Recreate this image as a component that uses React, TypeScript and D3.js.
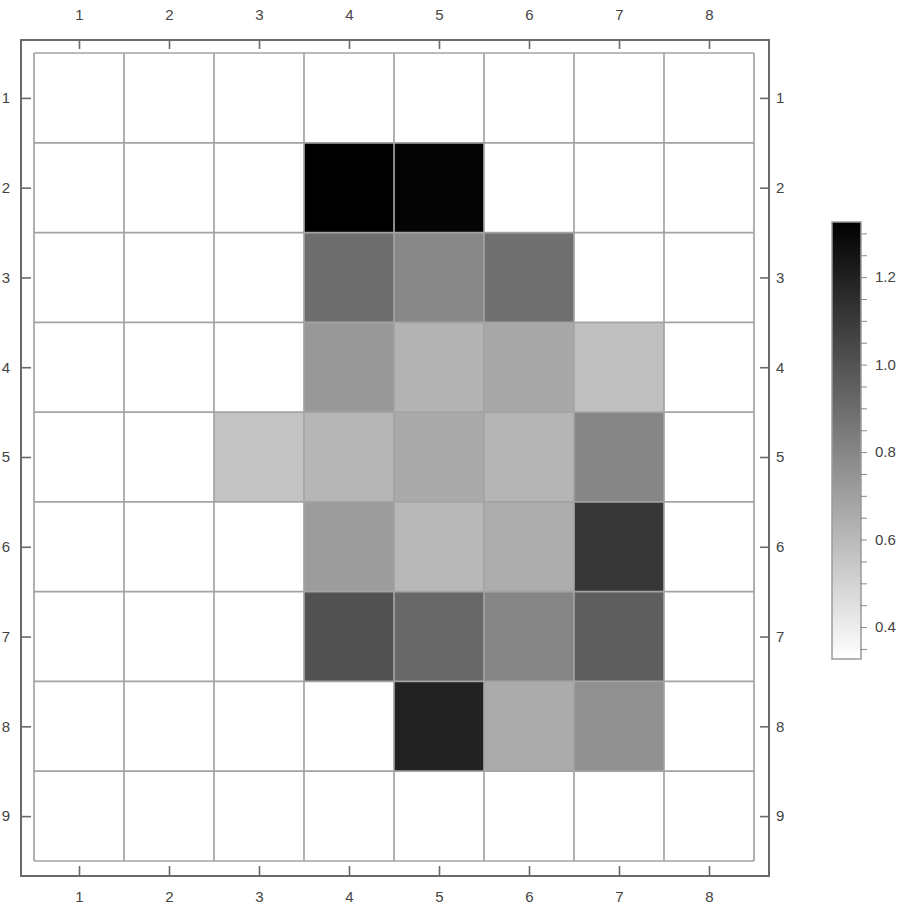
import React, { useEffect, useRef } from 'react';
import * as d3 from 'd3';

// column / row labels
const colLabels = [1, 2, 3, 4, 5, 6, 7, 8];
const rowLabels = [1, 2, 3, 4, 5, 6, 7, 8, 9];

// values per row (null = empty cell)
const row1 = [null, null, null, null, null, null, null, null];
const row2 = [null, null, null, 1.326, 1.31, null, null, null];
const row3 = [null, null, null, 0.895, 0.793, 0.887, null, null];
const row4 = [null, null, null, 0.731, 0.625, 0.668, 0.574, null];
const row5 = [null, null, 0.562, 0.613, 0.66, 0.617, 0.801, null];
const row6 = [null, null, null, 0.715, 0.605, 0.648, 1.114, null];
const row7 = [null, null, null, 1.008, 0.918, 0.801, 0.957, null];
const row8 = [null, null, null, null, 1.193, 0.656, 0.762, null];
const row9 = [null, null, null, null, null, null, null, null];
const rows: (number | null)[][] = [row1, row2, row3, row4, row5, row6, row7, row8, row9];

const colorDomain = [0.327, 1.326];
const legendTicks = [0.4, 0.6, 0.8, 1.0, 1.2];

const App = () => {
  const svgRef = useRef<SVGSVGElement>(null);

  useEffect(() => {
    const svg = d3.select(svgRef.current);
    svg.selectAll('*').remove();

    const frame = { left: 21, top: 40, right: 769, bottom: 876 };
    const grid = { left: 34, top: 53, right: 754, bottom: 861 };

    const x = d3.scaleBand<number>().domain(colLabels).range([grid.left, grid.right]);
    const y = d3.scaleBand<number>().domain(rowLabels).range([grid.top, grid.bottom]);
    const color = d3.scaleLinear<string>().domain(colorDomain).range(['#ffffff', '#000000']);

    const cells = rows.flatMap((r, i) => r.map((v, j) => ({ row: rowLabels[i], col: colLabels[j], v })));

    // cells
    svg.append('g')
      .selectAll('rect')
      .data(cells)
      .enter()
      .append('rect')
      .attr('x', d => x(d.col)!)
      .attr('y', d => y(d.row)!)
      .attr('width', x.bandwidth())
      .attr('height', y.bandwidth())
      .attr('fill', d => (d.v == null ? '#ffffff' : color(d.v)));

    // grid lines
    const gl = svg.append('g').attr('stroke', '#a3a3a3').attr('stroke-width', 1.7);
    colLabels.concat([0]).forEach((c, i) => {
      const xx = i < colLabels.length ? x(c)! : grid.right;
      gl.append('line').attr('x1', xx).attr('x2', xx).attr('y1', grid.top).attr('y2', grid.bottom);
    });
    rowLabels.concat([0]).forEach((r, i) => {
      const yy = i < rowLabels.length ? y(r)! : grid.bottom;
      gl.append('line').attr('y1', yy).attr('y2', yy).attr('x1', grid.left).attr('x2', grid.right);
    });

    // frame
    svg.append('rect')
      .attr('x', frame.left)
      .attr('y', frame.top)
      .attr('width', frame.right - frame.left)
      .attr('height', frame.bottom - frame.top)
      .attr('fill', 'none')
      .attr('stroke', '#6a6a6a')
      .attr('stroke-width', 2);

    const xc = d3.scalePoint<number>().domain(colLabels).range([x(1)! + x.bandwidth() / 2, x(8)! + x.bandwidth() / 2]);
    const yc = d3.scalePoint<number>().domain(rowLabels).range([y(1)! + y.bandwidth() / 2, y(9)! + y.bandwidth() / 2]);

    const styleAxis = (g: any) => {
      g.select('.domain').remove();
      g.selectAll('line').attr('stroke', '#6a6a6a').attr('stroke-width', 1.6);
      g.selectAll('text')
        .attr('fill', '#444')
        .style('font-family', '"Liberation Sans", Arial, sans-serif')
        .style('font-size', '15px');
    };

    svg.append('g').attr('transform', `translate(0,${frame.top})`)
      .call(d3.axisTop(xc).tickSize(-9).tickPadding(20)).call(styleAxis);
    svg.append('g').attr('transform', `translate(0,${frame.bottom})`)
      .call(d3.axisBottom(xc).tickSize(-10).tickPadding(15)).call(styleAxis);
    svg.append('g').attr('transform', `translate(${frame.left},0)`)
      .call(d3.axisLeft(yc).tickSize(-10).tickPadding(11)).call(styleAxis);
    svg.append('g').attr('transform', `translate(${frame.right},0)`)
      .call(d3.axisRight(yc).tickSize(-9).tickPadding(7)).call(styleAxis);

    // color bar
    const bar = { x: 832, w: 29, top: 222, bottom: 659 };
    const ly = d3.scaleLinear().domain(colorDomain).range([bar.bottom, bar.top]);
    const grad = svg.append('defs').append('linearGradient')
      .attr('id', 'cbar').attr('x1', 0).attr('x2', 0).attr('y1', 1).attr('y2', 0);
    grad.append('stop').attr('offset', '0%').attr('stop-color', color(colorDomain[0]));
    grad.append('stop').attr('offset', '100%').attr('stop-color', color(colorDomain[1]));
    svg.append('rect')
      .attr('x', bar.x).attr('y', bar.top)
      .attr('width', bar.w).attr('height', bar.bottom - bar.top)
      .attr('fill', 'url(#cbar)')
      .attr('stroke', '#9a9a9a').attr('stroke-width', 1.5);

    const minor = d3.range(0.35, 1.326, 0.05).filter(v => !legendTicks.some(t => Math.abs(t - v) < 1e-6));
    svg.append('g').attr('transform', `translate(${bar.x + bar.w - 1},0)`)
      .call(d3.axisRight(ly).tickValues(minor).tickSize(7).tickFormat(() => ''))
      .call(styleAxis)
      .selectAll('line').attr('stroke', '#8a8a8a').attr('stroke-width', 1);
    svg.append('g').attr('transform', `translate(${bar.x + bar.w - 1},0)`)
      .call(d3.axisRight(ly).tickValues(legendTicks).tickSize(7).tickPadding(8).tickFormat(d3.format('.1f')))
      .call(styleAxis)
      .selectAll('line').attr('stroke', '#8a8a8a').attr('stroke-width', 1);
  }, []);

  return (
    <svg
      ref={svgRef}
      width={921}
      height={915}
      style={{ position: 'absolute', left: 0, top: 0, background: '#fff' }}
    />
  );
};

export default App;
